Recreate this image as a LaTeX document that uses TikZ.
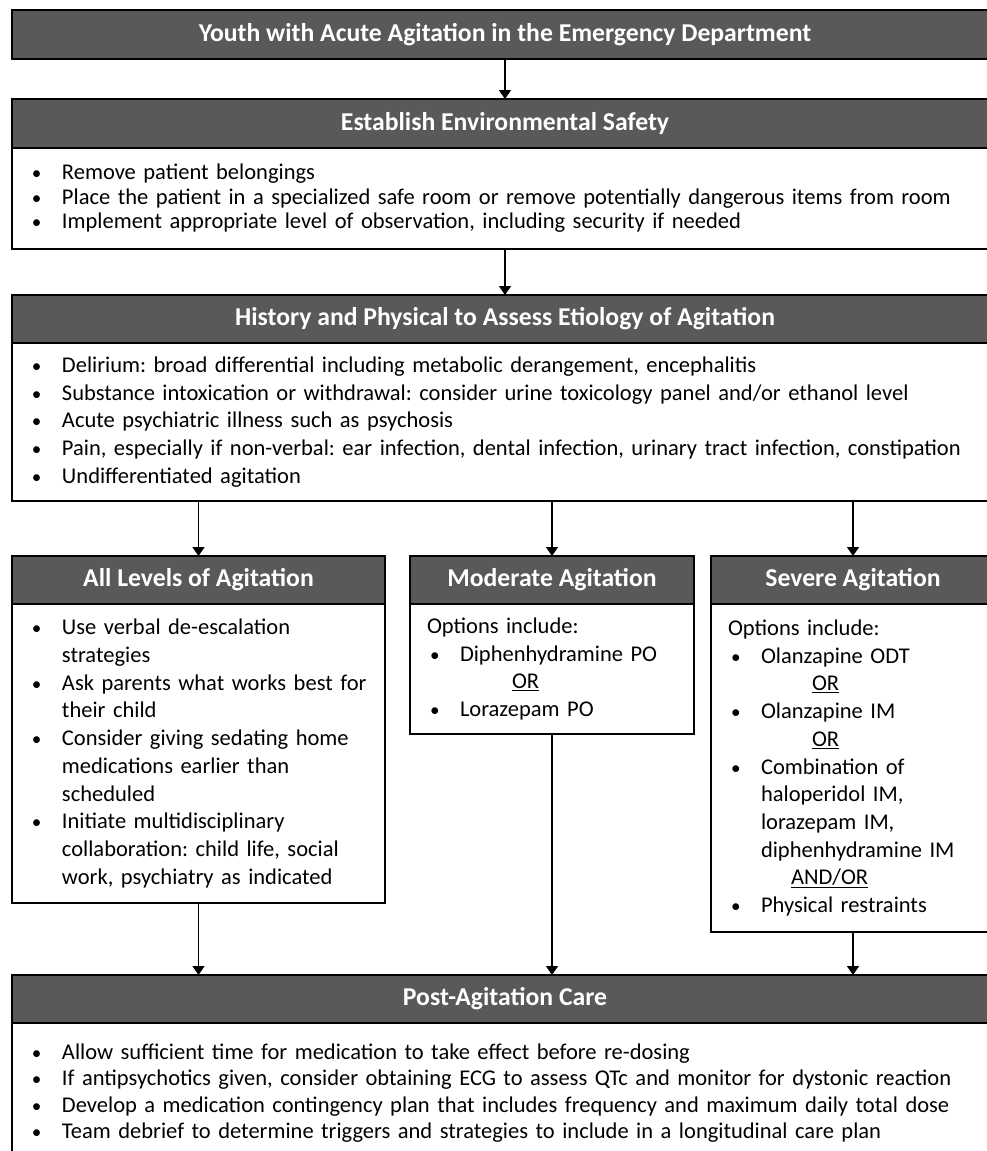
\documentclass[tikz,border=0pt]{standalone}
\usepackage{fontspec}
\usepackage{graphicx}
\setmainfont{Carlito}
\usetikzlibrary{positioning,arrows.meta}
\setlength{\parindent}{0pt}
\frenchspacing

\definecolor{hdrgray}{RGB}{89,89,89}

\newcommand{\bul}[1]{\hspace*{20pt}\makebox[30pt][l]{\scalebox{0.85}{\textbullet}}#1}
\newcommand{\cont}[1]{\hspace*{50pt}#1}

\tikzset{
  hdr/.style={draw,line width=1.5pt,fill=hdrgray,text=white,anchor=north west,
    inner sep=0pt,outer sep=0pt,minimum height=48pt,
    font=\fontsize{25.7}{30}\selectfont\bfseries},
  body/.style={draw,line width=1.5pt,fill=white,inner sep=0pt,outer sep=0pt,
    align=left,font=\fontsize{22.5}{27.7}\selectfont},
}

\begin{document}
\begin{tikzpicture}[x=1pt,y=-1pt,>={Triangle[width=12pt,length=9pt]}]
  \useasboundingbox (0,0) rectangle (987,1151);
  \clip (0,0) rectangle (987,1151);

  \node[hdr,minimum width=986pt,minimum height=49pt] (title) at (12,10)
    {Youth with Acute Agitation in the Emergency Department};

  \node[hdr,minimum width=986pt,minimum height=49pt] (safe) at (12,99)
    {Establish Environmental Safety};
  \node[body,text width=986pt,minimum height=101pt,
    font=\fontsize{22.5}{24.5}\selectfont] (safeBody) [below=0pt of safe] {%
    \bul{Remove patient belongings}\\
    \bul{Place the patient in a specialized safe room or remove potentially dangerous items from room}\\
    \bul{Implement appropriate level of observation, including security if needed}};

  \node[hdr,minimum width=986pt] (hist) at (12,295)
    {History and Physical to Assess Etiology of Agitation};
  \node[body,text width=986pt,minimum height=158pt] (histBody) [below=0pt of hist] {%
    \bul{Delirium: broad differential including metabolic derangement, encephalitis}\\
    \bul{Substance intoxication or withdrawal: consider urine toxicology panel and/or ethanol level}\\
    \bul{Acute psychiatric illness such as psychosis}\\
    \bul{Pain, especially if non-verbal: ear infection, dental infection, urinary tract infection, constipation}\\
    \bul{Undifferentiated agitation}};

  \node[hdr,minimum width=373pt] (all) at (12,556) {All Levels of Agitation};
  \node[body,text width=373pt,minimum height=299pt] (allBody) [below=0pt of all] {%
    \bul{Use verbal de-escalation}\\
    \cont{strategies}\\
    \bul{Ask parents what works best for}\\
    \cont{their child}\\
    \bul{Consider giving sedating home}\\
    \cont{medications earlier than}\\
    \cont{scheduled}\\
    \bul{Initiate multidisciplinary}\\
    \cont{collaboration: child life, social}\\
    \cont{work, psychiatry as indicated}};

  \node[hdr,minimum width=284pt] (mod) at (410,556) {Moderate Agitation};
  \node[body,text width=284pt,minimum height=130pt] (modBody) [below=0pt of mod] {%
    \hspace*{17pt}Options include:\\
    \bul{Diphenhydramine PO}\\
    \cont{\hspace*{52pt}\underline{OR}}\\
    \bul{Lorazepam PO}};

  \node[hdr,minimum width=284pt] (sev) at (711,556) {Severe Agitation};
  \node[body,text width=284pt,minimum height=328pt] (sevBody) [below=0pt of sev] {%
    \hspace*{17pt}Options include:\\
    \bul{Olanzapine ODT}\\
    \cont{\hspace*{51pt}\underline{OR}}\\
    \bul{Olanzapine IM}\\
    \cont{\hspace*{51pt}\underline{OR}}\\
    \bul{Combination of}\\
    \cont{haloperidol IM,}\\
    \cont{lorazepam IM,}\\
    \cont{diphenhydramine IM}\\
    \cont{\hspace*{30pt}\underline{AND/OR}}\\
    \bul{Physical restraints}};

  \node[hdr,minimum width=986pt] (post) at (12,975) {Post-Agitation Care};
  \node[body,text width=986pt,minimum height=140pt,
    font=\fontsize{22.5}{26.3}\selectfont] (postBody) [below=0pt of post] {%
    \bul{Allow sufficient time for medication to take effect before re-dosing}\\
    \bul{If antipsychotics given, consider obtaining ECG to assess QTc and monitor for dystonic reaction}\\
    \bul{Develop a medication contingency plan that includes frequency and maximum daily total dose}\\
    \bul{Team debrief to determine triggers and strategies to include in a longitudinal care plan}};

  \draw[->,line width=1.5pt] (title) -- (safe);
  \draw[->,line width=1.5pt] (safeBody) -- (hist);
  \draw[->,line width=1.5pt] (histBody.south -| all) -- (all);
  \draw[->,line width=1.5pt] (histBody.south -| mod) -- (mod);
  \draw[->,line width=1.5pt] (histBody.south -| sev) -- (sev);
  \draw[->,line width=1.5pt] (allBody) -- (allBody.south |- post.north);
  \draw[->,line width=1.5pt] (modBody) -- (modBody.south |- post.north);
  \draw[->,line width=1.5pt] (sevBody) -- (sevBody.south |- post.north);
\end{tikzpicture}
\end{document}
